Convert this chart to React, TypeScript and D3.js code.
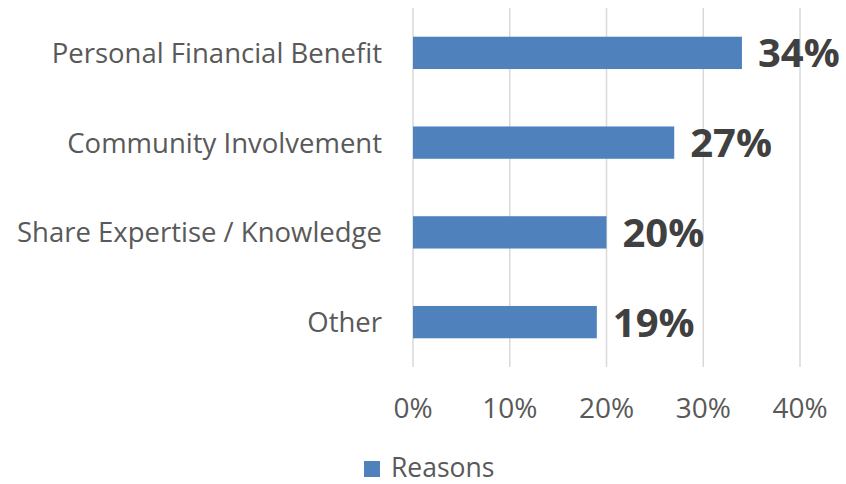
import React from "react";
import * as d3 from "d3";

const categories = [
  "Personal Financial Benefit",
  "Community Involvement",
  "Share Expertise / Knowledge",
  "Other",
];
const reasons = [0.34, 0.27, 0.2, 0.19];
const xTicks = [0, 0.1, 0.2, 0.3, 0.4];
const seriesName = "Reasons";

const W = 846;
const H = 484;
const FONT = "'Open Sans', Lato, sans-serif";

export default function App() {
  const x = d3.scaleLinear().domain([0, 0.4]).range([413, 800]);
  const y = d3
    .scaleBand<string>()
    .domain(categories)
    .range([8, 367])
    .paddingInner(0.64)
    .paddingOuter(0.32);
  const fmt = d3.format(".0%");

  return (
    <svg
      width={W}
      height={H}
      style={{ position: "absolute", left: 0, top: 0, background: "#fff" }}
      fontFamily={FONT}
    >
      {/* vertical gridlines */}
      {xTicks.map((t) => (
        <line
          key={t}
          x1={x(t)}
          x2={x(t)}
          y1={8}
          y2={367}
          stroke="#d9d9d9"
          strokeWidth={1.5}
        />
      ))}

      {/* bars */}
      {categories.map((c, i) => (
        <rect
          key={c}
          x={x(0)}
          y={y(c)}
          width={x(reasons[i]) - x(0)}
          height={y.bandwidth()}
          fill="#4f81bd"
        />
      ))}

      {/* value labels */}
      {categories.map((c, i) => (
        <text
          key={c}
          x={x(reasons[i]) + 16}
          y={(y(c) as number) + y.bandwidth() / 2}
          dy="0.36em"
          fontSize={40}
          fontWeight="bold"
          fill="#404040"
        >
          {fmt(reasons[i])}
        </text>
      ))}

      {/* category axis labels */}
      {categories.map((c) => (
        <text
          key={c}
          x={382}
          y={(y(c) as number) + y.bandwidth() / 2}
          dy="0.36em"
          textAnchor="end"
          fontSize={27.5}
          fill="#595959"
        >
          {c}
        </text>
      ))}

      {/* value axis labels */}
      {xTicks.map((t) => (
        <text
          key={t}
          x={x(t)}
          y={418}
          textAnchor="middle"
          fontSize={28}
          fill="#595959"
        >
          {fmt(t)}
        </text>
      ))}

      {/* legend */}
      <rect x={364} y={461} width={16} height={16} fill="#4f81bd" />
      <text x={391} y={477} fontSize={26.5} fill="#595959">
        {seriesName}
      </text>
    </svg>
  );
}
